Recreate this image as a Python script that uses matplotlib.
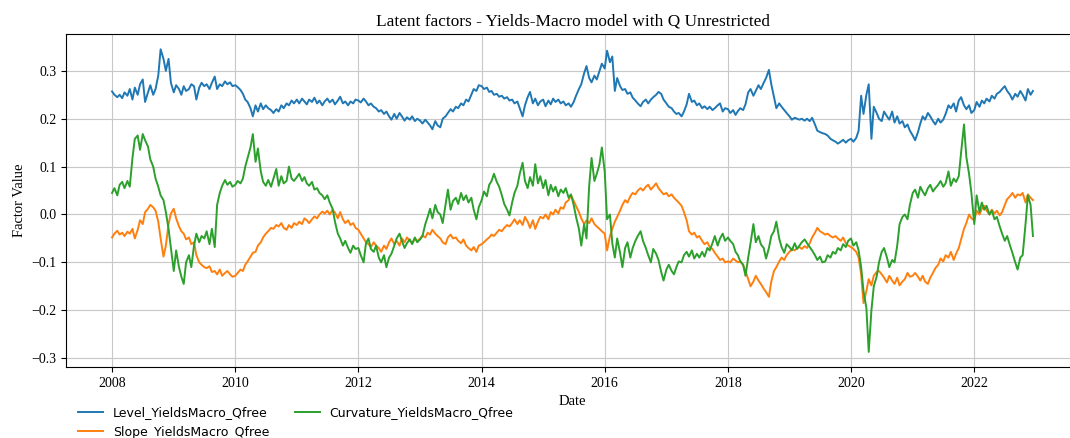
import pandas as pd
import matplotlib
matplotlib.use("Agg")
import matplotlib.pyplot as plt

# semi-monthly observations, Jan 2008 - Dec 2022
dates = pd.date_range("2008-01-01", periods=360, freq="SMS")

level = [
    0.257, 0.25, 0.245, 0.25, 0.243, 0.255, 0.248, 0.262, 0.24, 0.265, 0.25, 0.272,
    0.282, 0.235, 0.255, 0.27, 0.25, 0.262, 0.29, 0.345, 0.325, 0.30, 0.325, 0.275,
    0.255, 0.27, 0.262, 0.25, 0.268, 0.258, 0.262, 0.272, 0.268, 0.24, 0.265, 0.275,
    0.268, 0.272, 0.262, 0.275, 0.288, 0.262, 0.272, 0.268, 0.278, 0.272, 0.276, 0.268,
    0.27, 0.266, 0.26, 0.252, 0.24, 0.235, 0.222, 0.205, 0.228, 0.215, 0.232, 0.22,
    0.228, 0.222, 0.218, 0.212, 0.22, 0.215, 0.228, 0.222, 0.232, 0.228, 0.238, 0.232,
    0.24, 0.232, 0.242, 0.236, 0.23, 0.24, 0.235, 0.244, 0.232, 0.238, 0.228, 0.236,
    0.242, 0.234, 0.24, 0.23, 0.238, 0.246, 0.232, 0.236, 0.228, 0.236, 0.232, 0.24,
    0.238, 0.234, 0.242, 0.236, 0.228, 0.232, 0.225, 0.222, 0.215, 0.218, 0.21, 0.215,
    0.205, 0.198, 0.21, 0.2, 0.212, 0.205, 0.196, 0.203, 0.198, 0.205, 0.195, 0.2,
    0.196, 0.19, 0.198, 0.192, 0.186, 0.178, 0.195, 0.186, 0.182, 0.2, 0.205, 0.212,
    0.22, 0.215, 0.225, 0.222, 0.232, 0.228, 0.24, 0.236, 0.25, 0.262, 0.258, 0.27,
    0.268, 0.262, 0.265, 0.256, 0.258, 0.25, 0.252, 0.246, 0.248, 0.242, 0.245, 0.238,
    0.24, 0.232, 0.236, 0.222, 0.205, 0.228, 0.245, 0.256, 0.232, 0.242, 0.228, 0.236,
    0.24, 0.226, 0.238, 0.23, 0.242, 0.235, 0.24, 0.232, 0.236, 0.228, 0.232, 0.225,
    0.235, 0.248, 0.262, 0.272, 0.295, 0.31, 0.285, 0.276, 0.29, 0.282, 0.3, 0.315,
    0.305, 0.342, 0.318, 0.33, 0.258, 0.285, 0.268, 0.26, 0.262, 0.252, 0.255, 0.244,
    0.238, 0.232, 0.226, 0.235, 0.24, 0.232, 0.24, 0.245, 0.25, 0.256, 0.252, 0.24,
    0.232, 0.225, 0.222, 0.215, 0.21, 0.212, 0.205, 0.215, 0.23, 0.252, 0.235, 0.238,
    0.228, 0.232, 0.222, 0.226, 0.22, 0.225, 0.218, 0.222, 0.228, 0.232, 0.215, 0.222,
    0.22, 0.212, 0.218, 0.208, 0.216, 0.222, 0.218, 0.23, 0.255, 0.262, 0.248, 0.258,
    0.27, 0.262, 0.275, 0.285, 0.302, 0.272, 0.245, 0.222, 0.232, 0.225, 0.218, 0.212,
    0.205, 0.198, 0.202, 0.2, 0.198, 0.2, 0.196, 0.2, 0.195, 0.202, 0.188, 0.175,
    0.172, 0.17, 0.168, 0.165, 0.158, 0.155, 0.152, 0.148, 0.152, 0.156, 0.15, 0.155,
    0.158, 0.152, 0.16, 0.175, 0.248, 0.21, 0.25, 0.272, 0.158, 0.225, 0.212, 0.2,
    0.195, 0.215, 0.205, 0.198, 0.215, 0.192, 0.205, 0.19, 0.195, 0.182, 0.188, 0.175,
    0.165, 0.155, 0.172, 0.19, 0.205, 0.198, 0.212, 0.205, 0.195, 0.188, 0.2, 0.192,
    0.198, 0.21, 0.228, 0.222, 0.232, 0.215, 0.238, 0.245, 0.228, 0.22, 0.228, 0.212,
    0.218, 0.235, 0.225, 0.238, 0.232, 0.242, 0.236, 0.248, 0.242, 0.252, 0.256, 0.262,
    0.268, 0.258, 0.25, 0.24, 0.252, 0.246, 0.258, 0.25, 0.238, 0.262, 0.25, 0.258,
]

slope = [
    -0.048, -0.04, -0.034, -0.042, -0.038, -0.045, -0.036, -0.04, -0.03, -0.05, -0.032, -0.012,
    -0.02, 0.005, 0.012, 0.02, 0.015, 0.008, -0.015, -0.05, -0.088, -0.065, -0.02, 0.002,
    0.012, -0.008, -0.025, -0.035, -0.04, -0.052, -0.048, -0.062, -0.058, -0.085, -0.1, -0.105,
    -0.11, -0.112, -0.108, -0.12, -0.118, -0.125, -0.115, -0.128, -0.122, -0.118, -0.125, -0.13,
    -0.128, -0.122, -0.115, -0.118, -0.105, -0.098, -0.088, -0.08, -0.078, -0.065, -0.058, -0.048,
    -0.04, -0.035, -0.028, -0.03, -0.022, -0.025, -0.018, -0.028, -0.032, -0.022, -0.028, -0.018,
    -0.022, -0.015, -0.02, -0.008, -0.012, -0.018, -0.01, -0.004, -0.008, 0.0, 0.006, 0.002,
    0.008, 0.0, 0.01, 0.004, -0.008, 0.005, -0.01, -0.018, -0.012, -0.022, -0.018, -0.028,
    -0.032, -0.04, -0.05, -0.058, -0.062, -0.068, -0.058, -0.065, -0.07, -0.078, -0.065, -0.072,
    -0.058, -0.05, -0.062, -0.055, -0.065, -0.05, -0.058, -0.048, -0.055, -0.06, -0.05, -0.056,
    -0.05, -0.044, -0.048, -0.038, -0.042, -0.032, -0.04, -0.045, -0.05, -0.058, -0.062, -0.048,
    -0.042, -0.05, -0.048, -0.055, -0.06, -0.052, -0.065, -0.07, -0.075, -0.068, -0.078, -0.065,
    -0.062, -0.058, -0.052, -0.048, -0.042, -0.045, -0.038, -0.032, -0.035, -0.028, -0.022, -0.025,
    -0.018, -0.01, -0.02, -0.012, -0.022, -0.005, -0.015, -0.028, -0.012, -0.03, -0.015, -0.005,
    -0.008, 0.0, -0.01, 0.005, 0.0, 0.01, 0.002, 0.015, 0.012, 0.025, 0.03, 0.04,
    0.028, 0.018, 0.005, -0.008, -0.02, -0.012, -0.018, -0.008, -0.02, -0.025, -0.03, -0.035,
    -0.04, -0.075, -0.045, -0.03, -0.015, -0.005, 0.008, 0.02, 0.03, 0.025, 0.038, 0.045,
    0.042, 0.05, 0.055, 0.05, 0.058, 0.062, 0.052, 0.058, 0.065, 0.055, 0.048, 0.042,
    0.045, 0.038, 0.042, 0.035, 0.03, 0.025, 0.018, 0.005, -0.012, -0.035, -0.042, -0.038,
    -0.048, -0.045, -0.055, -0.062, -0.058, -0.068, -0.072, -0.08, -0.088, -0.095, -0.092, -0.1,
    -0.098, -0.1, -0.092, -0.096, -0.1, -0.098, -0.105, -0.118, -0.135, -0.15, -0.14, -0.128,
    -0.138, -0.145, -0.155, -0.162, -0.172, -0.14, -0.118, -0.11, -0.098, -0.09, -0.095, -0.085,
    -0.078, -0.072, -0.075, -0.07, -0.068, -0.072, -0.066, -0.07, -0.06, -0.048, -0.038, -0.028,
    -0.035, -0.038, -0.042, -0.04, -0.045, -0.048, -0.045, -0.05, -0.055, -0.048, -0.06, -0.065,
    -0.068, -0.072, -0.078, -0.09, -0.125, -0.185, -0.16, -0.135, -0.148, -0.128, -0.12, -0.118,
    -0.125, -0.132, -0.142, -0.128, -0.138, -0.145, -0.132, -0.148, -0.14, -0.135, -0.122, -0.13,
    -0.128, -0.122, -0.13, -0.138, -0.128, -0.14, -0.145, -0.132, -0.122, -0.112, -0.105, -0.092,
    -0.098, -0.085, -0.09, -0.078, -0.095, -0.082, -0.07, -0.052, -0.03, -0.018, 0.0, -0.008,
    -0.012, 0.008, 0.0, 0.012, 0.018, 0.008, 0.0, 0.01, 0.002, 0.008, -0.002, 0.005,
    0.02, 0.032, 0.038, 0.045, 0.035, 0.042, 0.04, 0.045, 0.025, 0.042, 0.035, 0.03,
]

curvature = [
    0.045, 0.055, 0.04, 0.062, 0.068, 0.055, 0.07, 0.058, 0.118, 0.158, 0.165, 0.135,
    0.168, 0.155, 0.142, 0.115, 0.1, 0.075, 0.058, 0.04, 0.03, 0.005, -0.03, -0.07,
    -0.118, -0.075, -0.11, -0.13, -0.145, -0.1, -0.085, -0.11, -0.065, -0.04, -0.058, -0.045,
    -0.05, -0.035, -0.062, -0.03, -0.068, 0.02, 0.045, 0.06, 0.072, 0.062, 0.068, 0.058,
    0.062, 0.07, 0.065, 0.075, 0.1, 0.118, 0.14, 0.168, 0.11, 0.138, 0.09, 0.068,
    0.06, 0.072, 0.058, 0.075, 0.095, 0.06, 0.08, 0.065, 0.07, 0.1, 0.075, 0.07,
    0.078, 0.085, 0.07, 0.078, 0.065, 0.06, 0.068, 0.052, 0.055, 0.045, 0.04, 0.032,
    0.04, 0.025, 0.012, -0.015, -0.04, -0.05, -0.065, -0.055, -0.07, -0.08, -0.065, -0.072,
    -0.07, -0.085, -0.1, -0.06, -0.05, -0.072, -0.078, -0.065, -0.09, -0.1, -0.085, -0.11,
    -0.09, -0.082, -0.065, -0.05, -0.04, -0.055, -0.07, -0.06, -0.052, -0.062, -0.048, -0.058,
    -0.052, -0.045, -0.02, -0.005, 0.012, -0.008, 0.02, 0.005, 0.0, -0.018, 0.02, 0.052,
    0.01, 0.028, 0.035, 0.022, 0.045, 0.03, 0.04, 0.025, 0.035, 0.01, -0.01, 0.015,
    0.03, 0.048, 0.038, 0.062, 0.07, 0.085, 0.068, 0.058, 0.04, 0.022, 0.01, -0.002,
    0.025, 0.045, 0.06, 0.085, 0.108, 0.07, 0.055, 0.078, 0.06, 0.105, 0.065, 0.08,
    0.055, 0.072, 0.04, 0.062, 0.048, 0.058, 0.038, 0.052, 0.045, 0.055, 0.035, 0.042,
    0.02, -0.005, -0.03, -0.065, -0.02, -0.05, 0.06, 0.118, 0.07, 0.085, 0.105, 0.14,
    0.09, -0.01, 0.0, -0.06, -0.09, -0.05, -0.08, -0.11, -0.07, -0.058, -0.09, -0.07,
    -0.055, -0.045, -0.035, -0.055, -0.07, -0.085, -0.1, -0.072, -0.082, -0.095, -0.12, -0.138,
    -0.115, -0.105, -0.118, -0.125, -0.11, -0.098, -0.1, -0.085, -0.078, -0.088, -0.075, -0.092,
    -0.082, -0.09, -0.078, -0.088, -0.07, -0.075, -0.06, -0.045, -0.065, -0.05, -0.04, -0.055,
    -0.048, -0.055, -0.062, -0.078, -0.085, -0.098, -0.105, -0.128, -0.09, -0.06, -0.02, -0.058,
    -0.045, -0.062, -0.07, -0.092, -0.07, -0.045, -0.035, -0.015, -0.05, -0.068, -0.08, -0.062,
    -0.068, -0.075, -0.06, -0.072, -0.065, -0.058, -0.052, -0.06, -0.068, -0.075, -0.085, -0.095,
    -0.088, -0.1, -0.098, -0.085, -0.09, -0.078, -0.082, -0.07, -0.075, -0.062, -0.068, -0.055,
    -0.05, -0.065, -0.058, -0.075, -0.11, -0.16, -0.195, -0.287, -0.2, -0.15, -0.13, -0.1,
    -0.078, -0.07, -0.09, -0.11, -0.095, -0.1, -0.065, -0.02, -0.005, 0.0, -0.01, 0.02,
    0.045, 0.052, 0.035, 0.058, 0.048, 0.04, 0.055, 0.062, 0.048, 0.055, 0.062, 0.07,
    0.058, 0.065, 0.09, 0.06, 0.075, 0.068, 0.08, 0.13, 0.188, 0.12, 0.085, 0.045,
    -0.02, 0.04, 0.005, 0.025, 0.01, 0.018, 0.0, 0.008, -0.01, -0.005, -0.025, -0.04,
    -0.055, -0.045, -0.065, -0.08, -0.1, -0.115, -0.09, -0.085, -0.02, 0.04, 0.02, -0.045,
]

factors = pd.DataFrame(
    {
        "Level_YieldsMacro_Qfree": level,
        "Slope_YieldsMacro_Qfree": slope,
        "Curvature_YieldsMacro_Qfree": curvature,
    },
    index=dates,
)

serif = "Liberation Serif"

fig = plt.figure(figsize=(10.7, 4.38), dpi=100)
ax = fig.add_axes([0.0617, 0.162, 0.9467, 0.760])

for col in factors.columns:
    ax.plot(factors.index, factors[col], label=col, linewidth=1.4)

ax.grid(True, color="#c8c8c8", linewidth=0.8)
ax.set_title("Latent factors - Yields-Macro model with Q Unrestricted",
             fontsize=12.4, family=serif)
ax.set_xlabel("Date", fontsize=10.5, family=serif)
ax.set_ylabel("Factor Value", fontsize=10.5, family=serif)
for lbl in ax.get_xticklabels() + ax.get_yticklabels():
    lbl.set_family(serif)
    lbl.set_fontsize(10)

fig.legend(loc="upper left", bbox_to_anchor=(0.0626, 0.098), ncol=2,
           frameon=False, fontsize=9)

fig.savefig("out.png", dpi=100)
